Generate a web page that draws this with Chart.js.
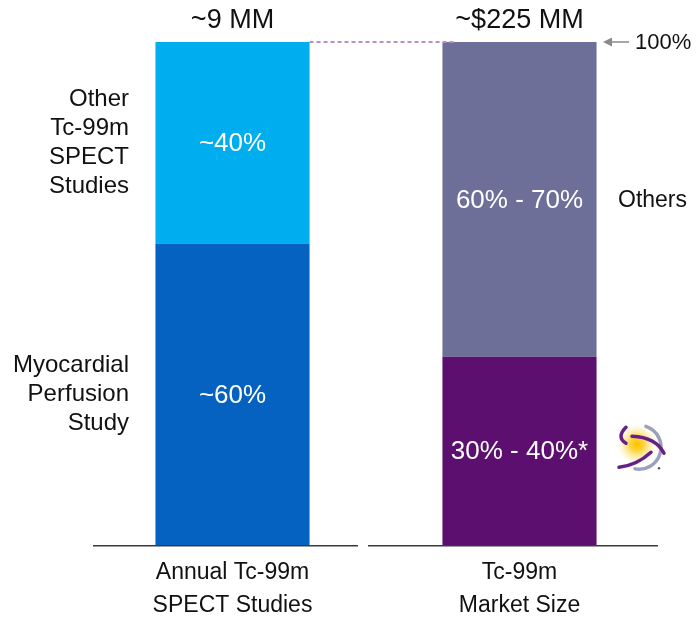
<!DOCTYPE html>
<html>
<head>
<meta charset="utf-8">
<script src="https://cdn.jsdelivr.net/npm/chart.js@4.4.1/dist/chart.umd.min.js"></script>
<style>
  html, body { margin: 0; padding: 0; background: #fff; overflow: hidden; }
  #wrap { width: 698px; height: 621px; }
</style>
</head>
<body>
<div id="wrap"><canvas id="mtChart" width="698" height="621"></canvas></div>
<script>
// categories (bottom labels)
var categories = [['Annual Tc-99m', 'SPECT Studies'], ['Tc-99m', 'Market Size']];
// totals shown above each bar
var totals = ['~9 MM', '~$225 MM'];

// lower segment of each bar (%)
var lowerValues = [60, 37.5];
var lowerLabels = ['~60%', '30% - 40%*'];
var lowerColors = ['#0562C0', '#5C0F6F'];

// upper segment of each bar (%)
var upperValues = [40, 62.5];
var upperLabels = ['~40%', '60% - 70%'];
var upperColors = ['#00ADEE', '#6D6F99'];

// side captions
var leftCaptions = [['Myocardial', 'Perfusion', 'Study'], ['Other', 'Tc-99m', 'SPECT', 'Studies']];
var rightCaption = 'Others';
var topMark = '100%';

var FONT = "'Liberation Sans', Arial, sans-serif";

var ctx = document.getElementById('mtChart').getContext('2d');

// white % text in the middle of every segment
var segmentText = {
  id: 'segmentText',
  afterDatasetsDraw: function(chart) {
    var c = chart.ctx;
    c.save();
    c.fillStyle = '#ffffff';
    c.font = '26px ' + FONT;
    c.textAlign = 'center';
    c.textBaseline = 'middle';
    chart.data.datasets.forEach(function(ds, di) {
      chart.getDatasetMeta(di).data.forEach(function(bar, i) {
        var mid = (bar.y + bar.base) / 2;
        c.fillText(ds.segLabels[i], bar.x, mid + 1);
      });
    });
    c.restore();
  }
};

// totals, side captions, baseline, dashed 100% line, logo
var extras = {
  id: 'extras',
  afterDraw: function(chart) {
    var c = chart.ctx;
    var area = chart.chartArea;
    var lower = chart.getDatasetMeta(0).data;
    var upper = chart.getDatasetMeta(1).data;
    var w = lower[0].width;
    c.save();

    // baseline, split between the two bars
    var mid = (lower[0].x + lower[1].x) / 2;
    c.strokeStyle = '#3a3a3a';
    c.lineWidth = 1.5;
    c.beginPath();
    c.moveTo(area.left + 4, area.bottom);
    c.lineTo(mid - 18, area.bottom);
    c.moveTo(mid - 8, area.bottom);
    c.lineTo(area.right - 5, area.bottom);
    c.stroke();

    // dotted link between bar tops
    c.strokeStyle = '#b592c4';
    c.lineWidth = 2;
    c.setLineDash([4, 3]);
    c.beginPath();
    c.moveTo(lower[0].x + w / 2, upper[0].y);
    c.lineTo(upper[1].x - w / 2 + 14, upper[1].y);
    c.stroke();
    c.setLineDash([]);

    // totals above bars
    c.fillStyle = '#111';
    c.font = '27px ' + FONT;
    c.textAlign = 'center';
    c.textBaseline = 'middle';
    totals.forEach(function(t, i) {
      c.fillText(t, upper[i].x, upper[i].y - 21);
    });

    // left captions, centred on the first bar's segments
    c.font = '24px ' + FONT;
    c.textAlign = 'right';
    var lh = 29;
    [lower[0], upper[0]].forEach(function(bar, k) {
      var lines = leftCaptions[k];
      var cy = (bar.y + bar.base) / 2;
      var y0 = cy - (lines.length - 1) * lh / 2;
      lines.forEach(function(s, j) {
        c.fillText(s, 129, y0 + j * lh);
      });
    });

    // right caption for the upper market segment
    c.font = '23px ' + FONT;
    c.textAlign = 'left';
    c.fillText(rightCaption, 618, (upper[1].y + upper[1].base) / 2 + 1);

    // 100% marker with arrow
    var ty = upper[1].y;
    c.font = '22px ' + FONT;
    c.fillText(topMark, 635, ty + 1);
    c.strokeStyle = '#8a8a8a';
    c.fillStyle = '#8a8a8a';
    c.lineWidth = 1.5;
    c.beginPath();
    c.moveTo(629, ty);
    c.lineTo(608, ty);
    c.stroke();
    c.beginPath();
    c.moveTo(603, ty);
    c.lineTo(612, ty - 4.5);
    c.lineTo(612, ty + 4.5);
    c.closePath();
    c.fill();

    // small company mark next to the lower market segment
    var lx = 642, ly = (lower[1].y + lower[1].base) / 2 - 4;
    var g = c.createRadialGradient(lx - 5, ly - 3, 1, lx - 5, ly - 3, 22);
    g.addColorStop(0, '#ffc400');
    g.addColorStop(0.3, '#fcd648');
    g.addColorStop(0.65, 'rgba(253,234,160,0.6)');
    g.addColorStop(1, 'rgba(255,255,255,0)');
    c.fillStyle = g;
    c.beginPath();
    c.arc(lx - 5, ly - 3, 22, 0, Math.PI * 2);
    c.fill();
    // grey orbit on the right
    c.strokeStyle = '#9aa0bd';
    c.lineWidth = 3.5;
    c.lineCap = 'round';
    c.beginPath();
    c.arc(lx - 3, ly, 22, -1.25, 1.75);
    c.stroke();
    // purple swooshes
    c.strokeStyle = '#67208a';
    c.lineWidth = 3.5;
    c.beginPath();
    c.moveTo(lx - 16, ly - 20);
    c.quadraticCurveTo(lx - 26, ly - 10, lx - 16, ly - 4);
    c.stroke();
    c.beginPath();
    c.moveTo(lx - 10, ly - 11);
    c.quadraticCurveTo(lx + 14, ly - 10, lx + 22, ly + 6);
    c.stroke();
    c.beginPath();
    c.moveTo(lx - 23, ly + 20);
    c.quadraticCurveTo(lx - 5, ly + 18, lx + 9, ly + 5);
    c.stroke();
    c.fillStyle = '#555';
    c.beginPath();
    c.arc(lx + 17, ly + 21, 1.2, 0, Math.PI * 2);
    c.fill();
    c.restore();
  }
};

new Chart(ctx, {
  type: 'bar',
  data: {
    labels: categories,
    datasets: [
      { label: 'lower', data: lowerValues, backgroundColor: lowerColors, segLabels: lowerLabels },
      { label: 'upper', data: upperValues, backgroundColor: upperColors, segLabels: upperLabels }
    ]
  },
  options: {
    responsive: false,
    animation: false,
    layout: { padding: { left: 89, right: 35, top: 42, bottom: -12 } },
    datasets: { bar: { categoryPercentage: 1, barPercentage: 0.537 } },
    plugins: { legend: { display: false }, tooltip: { enabled: false } },
    scales: {
      x: {
        stacked: true,
        border: { display: false },
        grid: { display: false, drawTicks: false },
        ticks: {
          color: '#111',
          padding: 11,
          font: { family: FONT, size: 23, lineHeight: 1.42 }
        }
      },
      y: {
        stacked: true,
        display: false,
        min: 0,
        max: 100
      }
    }
  },
  plugins: [segmentText, extras]
});
</script>
</body>
</html>
